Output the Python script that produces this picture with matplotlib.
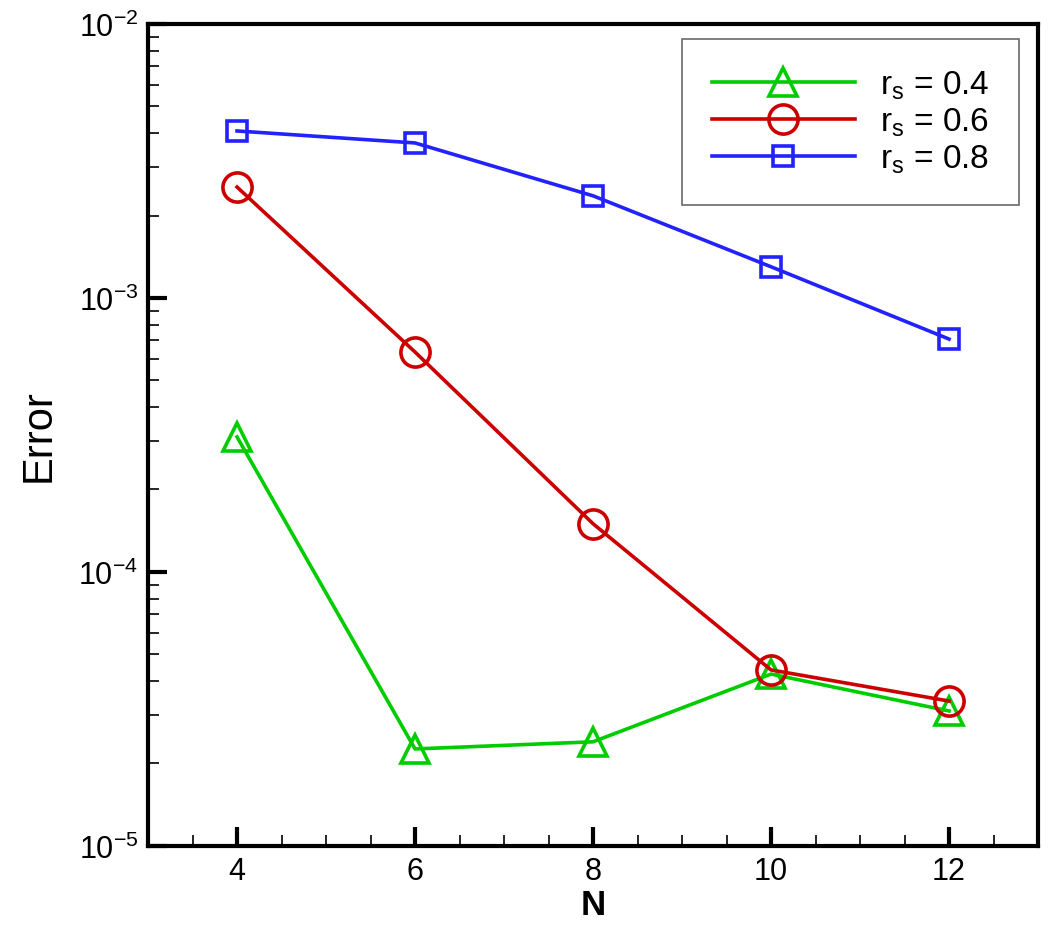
import matplotlib
matplotlib.use('Agg')
import matplotlib.pyplot as plt
from matplotlib.ticker import LogLocator, MultipleLocator, FixedLocator, NullFormatter

plt.rcParams['font.family'] = ['Liberation Sans', 'DejaVu Sans']
plt.rcParams['mathtext.fontset'] = 'custom'
plt.rcParams['mathtext.rm'] = 'Liberation Sans'
plt.rcParams['mathtext.it'] = 'Liberation Sans'

N = [4, 6, 8, 10, 12]
err_04 = [3.11e-4, 2.26e-5, 2.40e-5, 4.24e-5, 3.11e-5]
err_06 = [2.54e-3, 6.35e-4, 1.50e-4, 4.39e-5, 3.38e-5]
err_08 = [4.07e-3, 3.68e-3, 2.36e-3, 1.30e-3, 7.08e-4]
labels = ['r$_\\mathregular{s}$ = 0.4', 'r$_\\mathregular{s}$ = 0.6', 'r$_\\mathregular{s}$ = 0.8']
ytick_vals = [1e-5, 1e-4, 1e-3, 1e-2]
ytick_labels = ['10$^{\\mathregular{-5}}$', '10$^{\\mathregular{-4}}$',
                '10$^{\\mathregular{-3}}$', '10$^{\\mathregular{-2}}$']

fig = plt.figure(figsize=(10.5, 9.29), dpi=100)
ax = fig.add_axes([0.141, 0.0883, 0.8476, 0.8848])

ax.plot(N, err_04, color='#00cc00', lw=2.6, marker='^', ms=20, mfc='none', mew=2.6, label=labels[0])
ax.plot(N, err_06, color='#cc0000', lw=2.6, marker='o', ms=21, mfc='none', mew=2.6, label=labels[1])
ax.plot(N, err_08, color='#2222ff', lw=2.6, marker='s', ms=15, mfc='none', mew=2.6, label=labels[2])

ax.set_yscale('log')
ax.set_xlim(3, 13)
ax.set_ylim(1e-5, 1e-2)
ax.xaxis.set_major_locator(FixedLocator(N))
ax.xaxis.set_minor_locator(MultipleLocator(0.5))
ax.yaxis.set_minor_locator(LogLocator(base=10, subs=range(2, 10), numticks=20))
ax.yaxis.set_minor_formatter(NullFormatter())
ax.set_yticks(ytick_vals)
ax.set_yticklabels(ytick_labels)

for s in ['left', 'bottom', 'right', 'top']:
    ax.spines[s].set_linewidth(3)
ax.tick_params(which='major', direction='in', length=14, width=3, labelsize=22, pad=7,
               top=False, right=False)
ax.tick_params(which='minor', direction='in', length=8, width=1.2, top=False, right=False)

ax.set_xlabel('N', fontsize=25, fontweight='bold', labelpad=2)
ax.set_ylabel('Error', fontsize=30, labelpad=14)

leg = ax.legend(loc='upper right', bbox_to_anchor=(0.979, 0.982), fontsize=24, frameon=True,
                fancybox=False, handlelength=4.3, borderpad=0.9, labelspacing=0.13,
                handletextpad=0.75, borderaxespad=0)
leg.get_frame().set_edgecolor('#444444')
leg.get_frame().set_linewidth(1.2)

fig.savefig('out.png', dpi=100)
